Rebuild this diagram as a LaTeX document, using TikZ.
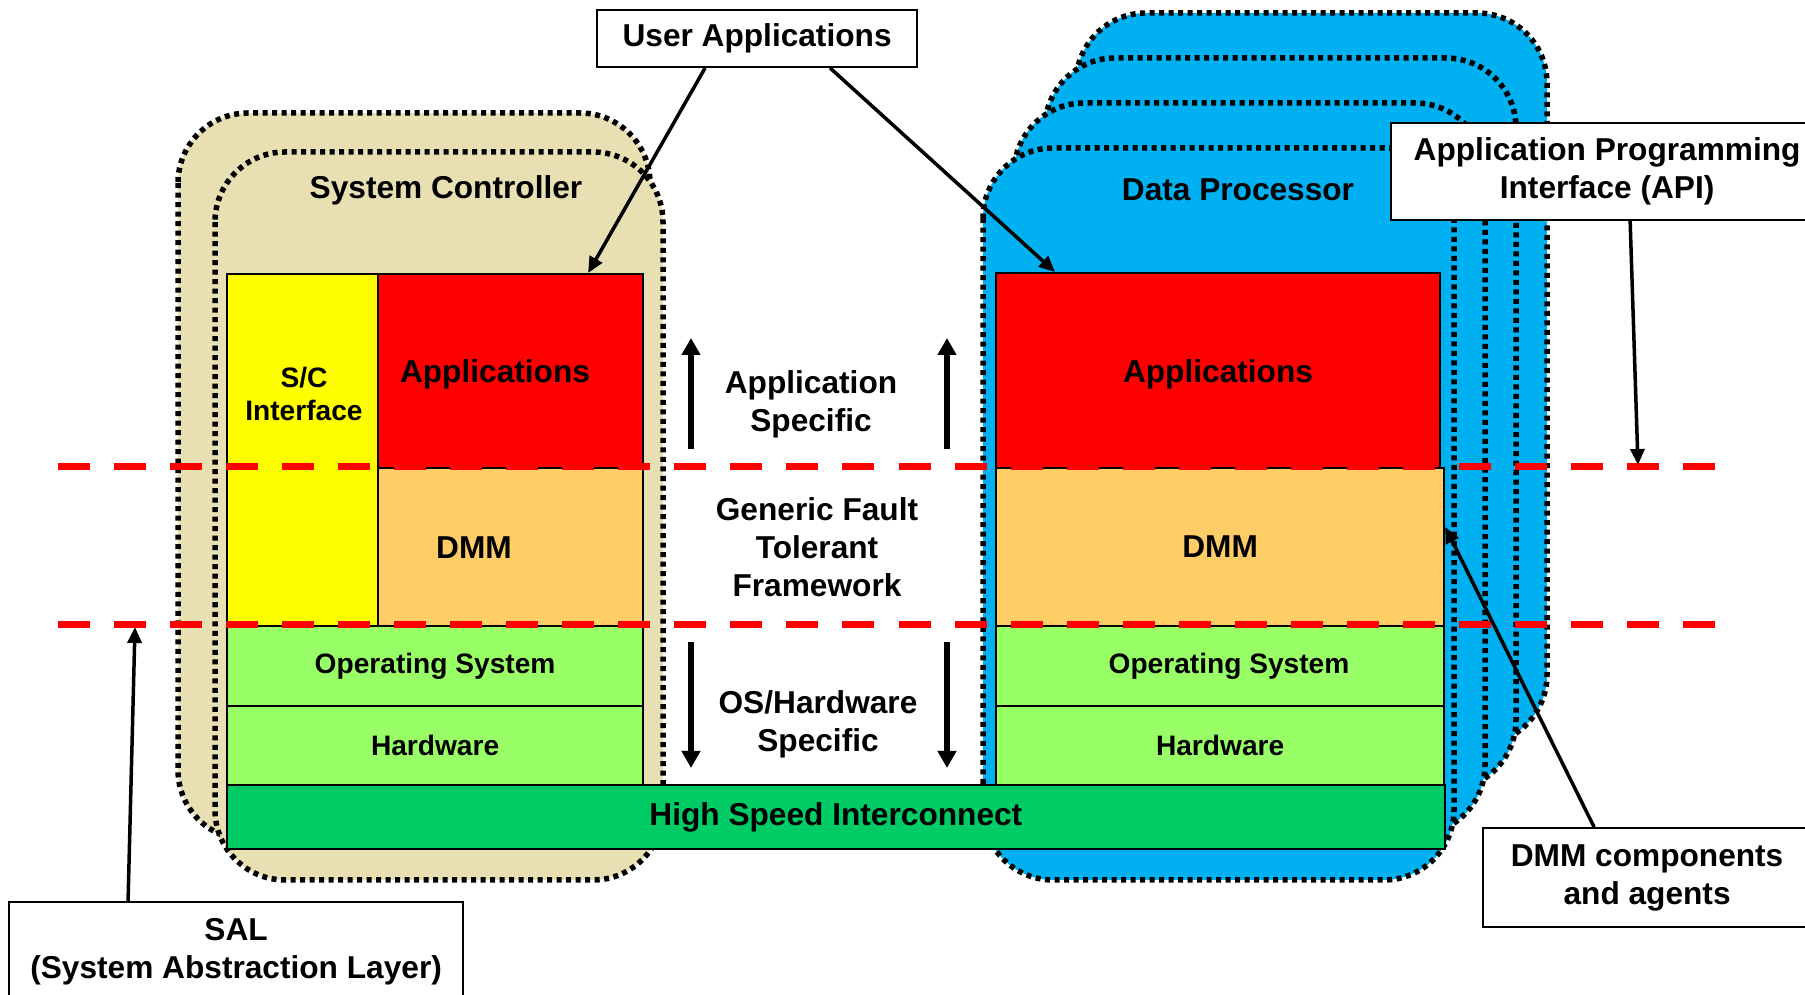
\documentclass[tikz,border=0pt]{standalone}
\usepackage{fontspec}
\setmainfont{Liberation Sans}
\usetikzlibrary{arrows.meta}

\definecolor{sctan}{RGB}{232,224,178}
\definecolor{dpblue}{RGB}{0,176,240}
\definecolor{appred}{RGB}{255,0,0}
\definecolor{ifyellow}{RGB}{255,255,0}
\definecolor{dmmorange}{RGB}{255,204,102}
\definecolor{osgreen}{RGB}{153,255,102}
\definecolor{hsigreen}{RGB}{0,204,102}

\tikzset{
  board/.style={line width=0.055cm, dash pattern=on 0.05cm off 0.045cm, rounded corners=0.7cm},
  layer/.style={draw, line width=0.02cm, anchor=north west, inner sep=0pt, font=\fontsize{9}{10.8}\selectfont\bfseries},
  smalllayer/.style={layer, font=\fontsize{8}{9.6}\selectfont\bfseries},
  tag/.style={align=center, font=\fontsize{9}{10.8}\selectfont\bfseries},
  smalltag/.style={align=center, font=\fontsize{8}{9.6}\selectfont\bfseries},
  callout/.style={draw, fill=white, line width=0.02cm, anchor=north west, align=center, font=\fontsize{9}{10.8}\selectfont\bfseries},
  pointer/.style={line width=0.035cm, -{Triangle[length=0.16cm,width=0.14cm]}},
  scope arrow/.style={line width=0.057cm, -{Triangle[length=0.17cm,width=0.18cm]}},
  levelline/.style={appred, line width=0.07cm, dash pattern=on 0.32cm off 0.24cm},
}

\begin{document}
\begin{tikzpicture}[x=0.01cm,y=-0.01cm]
    \useasboundingbox (0,0) rectangle (1805,995);

    % system controller boards
    \draw[board, fill=sctan] (178,113) rectangle (650,840);
    \draw[board, fill=sctan] (215,152) rectangle (663,880);
    % data processor boards, back to front
    \draw[board, fill=dpblue] (1076,13) rectangle (1547,745);
    \draw[board, fill=dpblue] (1045,58) rectangle (1516,790);
    \draw[board, fill=dpblue] (1014,103) rectangle (1485,835);
    \draw[board, fill=dpblue] (983,148) rectangle (1454,880);

    \node[tag] (sctitle) at (446,190) {System Controller};
    \node[tag] (dptitle) at (1238,190) {Data Processor};

    % system controller layers
    \node[layer, fill=ifyellow, minimum width=1.51cm, minimum height=3.52cm] (scif) at (226,273) {};
    \node[smalltag] (sciflabel) at (304,394) {S/C\\Interface};
    \node[layer, fill=appred, minimum width=2.65cm, minimum height=1.94cm] (scapp) at (377,273) {};
    \node[tag] (scapplabel) at (495,374) {Applications};
    \node[layer, fill=dmmorange, minimum width=2.65cm, minimum height=1.58cm] (scdmm) at (377,467) {};
    \node[tag] (scdmmlabel) at (474,548) {DMM};
    \node[smalllayer, fill=osgreen, minimum width=4.16cm, minimum height=0.80cm] (scos) at (226,625) {Operating System};
    \node[smalllayer, fill=osgreen, minimum width=4.16cm, minimum height=0.79cm] (schw) at (226,705) {Hardware};

    % data processor layers
    \node[layer, fill=appred, minimum width=4.44cm, minimum height=1.95cm] (dpapp) at (995,272) {};
    \node[tag] (dpapplabel) at (1218,374) {Applications};
    \node[layer, fill=dmmorange, minimum width=4.48cm, minimum height=1.58cm] (dpdmm) at (995,467) {DMM};
    \node[layer, fill=osgreen, minimum width=4.48cm, minimum height=0.80cm] (dpos) at (995,625) {};
    \node[smalltag] (dposlabel) at (1229,666) {Operating System};
    \node[smalllayer, fill=osgreen, minimum width=4.48cm, minimum height=0.79cm] (dphw) at (995,705) {Hardware};

    \node[layer, fill=hsigreen, minimum width=12.17cm, minimum height=0.64cm] (hsi) at (226,784) {High Speed Interconnect};

    % API and SAL levels
    \coordinate (apiL) at (58,467);
    \coordinate (apiR) at (1715,467);
    \coordinate (salL) at (58,625);
    \coordinate (salR) at (1715,625);
    \draw[levelline] (apiL) -- (apiR);
    \draw[levelline] (salL) -- (salR);

    % middle column
    \node[tag] (appspec) at (811,404) {Application\\Specific};
    \node[tag] (generic) at (817,547) {Generic Fault\\Tolerant\\Framework};
    \node[tag] (osspec) at (818,724) {OS/Hardware\\Specific};
    \draw[scope arrow] (691,449) -- (691,338);
    \draw[scope arrow] (947,449) -- (947,338);
    \draw[scope arrow] (691,642) -- (691,768);
    \draw[scope arrow] (947,642) -- (947,768);

    % callouts
    \node[callout, minimum width=3.2cm, minimum height=0.57cm] (ua) at (596,9) {User Applications};
    \node[callout, minimum width=4.32cm, minimum height=0.97cm] (api) at (1390,122) {Application Programming\\Interface (API)};
    \node[callout, minimum width=3.28cm, minimum height=0.99cm] (dmmc) at (1482,827) {DMM components\\and agents};
    \node[callout, minimum width=4.54cm, minimum height=1.0cm] (sal) at (8,901) {SAL\\(System Abstraction Layer)};

    \coordinate (apitip) at (1638,465);
    \coordinate (saltip) at (135,627);
    \draw[pointer] ([xshift=-0.52cm]ua.south) -- ([xshift=0.775cm]scapp.north);
    \draw[pointer] ([xshift=0.73cm]ua.south) -- ([xshift=-1.63cm]dpapp.north);
    \draw[pointer] ([xshift=0.23cm]api.south) -- (apitip);
    \draw[pointer] ([xshift=-0.53cm]dmmc.north) -- ([yshift=0.2cm]dpdmm.east);
    \draw[pointer] ([xshift=-1.08cm]sal.north) -- (saltip);
\end{tikzpicture}
\end{document}
